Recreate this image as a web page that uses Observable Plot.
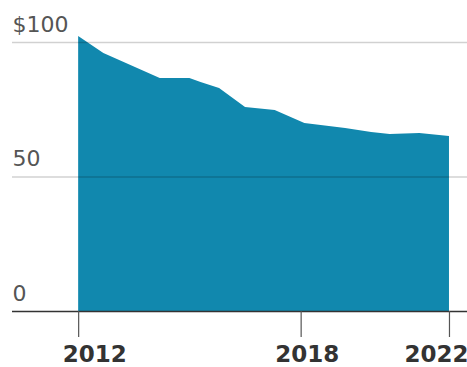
<!DOCTYPE html>
<html>
<head>
<meta charset="utf-8">
<script src="https://cdn.jsdelivr.net/npm/d3@7"></script>
<script src="https://cdn.jsdelivr.net/npm/@observablehq/plot@0.6"></script>
<style>
  html, body { margin: 0; padding: 0; background: #fff; }
</style>
</head>
<body>
<div id="chart"></div>
<script>
// Data (year, value in dollars)
const years  = [2012, 2012.68, 2014.2, 2015.0, 2015.3, 2015.8, 2016.5, 2017.3, 2018.1, 2019.2, 2019.9, 2020.4, 2021.2, 2022];
const values = [102.2, 95.9,   86.6,   86.6,   85.1,   82.9,   75.8,   74.7,   69.9,   68.0,   66.5,   65.8,   66.2,   65.1];
const yTicks = [0, 50, 100];
const yTickLabels = ["0", "50", "$100"];
const xTicks = [2012, 2018, 2022];

const data = years.map((x, i) => ({x, y: values[i]}));
const yLabels = yTicks.map((v, i) => ({v, label: yTickLabels[i]}));

const yearLabel = {tickSize: 0, tickPadding: 34, fontSize: 23, fontWeight: "bold", fill: "#333", tickFormat: d => String(d), label: null};

const chart = Plot.plot({
  width: 467,
  height: 367,
  marginLeft: 12,
  marginRight: 0,
  marginTop: 42,
  marginBottom: 56,
  style: {fontFamily: "DejaVu Sans", background: "#fff"},
  x: {domain: [2010.216, 2022.486], axis: null, label: null},
  y: {domain: [0, 100], axis: null, label: null},
  marks: [
    Plot.areaY(data, {x: "x", y: "y", fill: "#1188ae"}),
    Plot.ruleY([50, 100], {stroke: "black", strokeOpacity: 0.18, strokeWidth: 1.5}),
    Plot.ruleY([0], {stroke: "#333", strokeWidth: 1.5}),
    Plot.text(yLabels, {
      x: () => 2010.216, y: "v", text: "label",
      textAnchor: "start", lineAnchor: "bottom", dy: -11,
      fontSize: 22, fill: "#555"
    }),
    Plot.axisX(xTicks, {tickSize: 26, tickFormat: () => "", stroke: "#555", strokeWidth: 1.2, label: null}),
    Plot.axisX([2012], {...yearLabel, textAnchor: "start", dx: -16}),
    Plot.axisX([2018], {...yearLabel, dx: 6}),
    Plot.axisX([2022], {...yearLabel, textAnchor: "start", dx: -45})
  ]
});
document.getElementById("chart").appendChild(chart);
</script>
</body>
</html>
